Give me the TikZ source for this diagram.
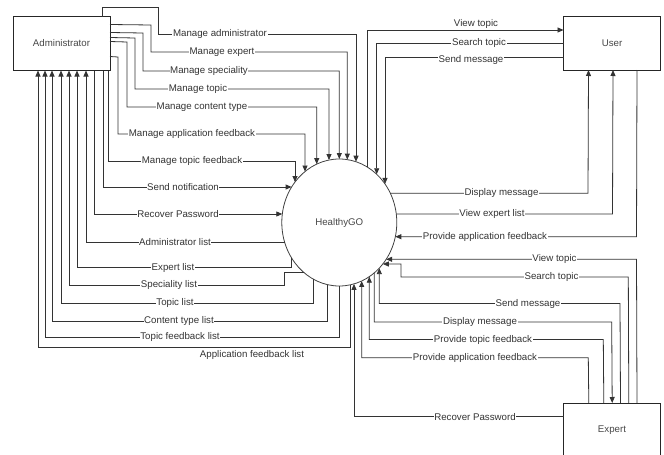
\documentclass[tikz,border=0pt]{standalone}
\usepackage{fontspec}
\setmainfont{Liberation Sans}
\usetikzlibrary{arrows.meta,shapes.geometric,calc}
% border points of the HealthyGO ellipse (centre 339.3,222.5; radii 57.5 x 63.5)
\newcommand\hgtop[2]{\coordinate (#1) at ($(hg.center)+({#2-339.3},{-63.5*sqrt(1-((#2-339.3)/57.5)^2)})$);}
\newcommand\hgbot[2]{\coordinate (#1) at ($(hg.center)+({#2-339.3},{63.5*sqrt(1-((#2-339.3)/57.5)^2)})$);}
\newcommand\hgleft[2]{\coordinate (#1) at ($(hg.center)+({-57.5*sqrt(1-((#2-222.5)/63.5)^2)},{#2-222.5})$);}
\newcommand\hgright[2]{\coordinate (#1) at ($(hg.center)+({57.5*sqrt(1-((#2-222.5)/63.5)^2)},{#2-222.5})$);}
\begin{document}
\begin{tikzpicture}[x=1pt,y=-1pt,
  ent/.style={draw=black!85, line width=0.8pt, minimum width=97pt, minimum height=54pt,
    inner sep=0pt, outer sep=0pt, text=black!72, font=\fontsize{9.7}{11}\selectfont},
  proc/.style={draw=black!75, line width=0.8pt, ellipse, minimum width=115pt, minimum height=127pt,
    inner sep=0pt, outer sep=0pt, text=black!72, font=\fontsize{9.7}{11}\selectfont},
  lbl/.style={fill=white, inner sep=0.6pt, text=black!80, font=\fontsize{9.7}{11}\selectfont},
  flow/.style={draw=black!80, line width=0.8pt, -{Triangle[length=6pt,width=5pt]}},
  wire/.style={draw=black!80, line width=0.8pt},
]
\path[use as bounding box] (0,0) rectangle (664,455);
\clip (0,0) rectangle (664,455);

\node[ent] (ad) at (61.5,43.5) {Administrator};
\node[ent] (us) at (612,43) {User};
\node[ent] (ex) at (612,430) {Expert};
\node[proc] (hg) at (339.3,222.5) {HealthyGO};

% border points
\hgtop{e1}{356} \hgtop{e2}{347.3} \hgtop{e3}{339.3} \hgtop{e4}{329} \hgtop{e5}{316.7}
\hgtop{e6}{305} \hgtop{e7}{295}
\hgleft{e8}{187} \hgleft{e9}{214} \hgleft{l1}{242.3} \hgleft{l3}{272.7}
\hgbot{l2}{291.7} \hgbot{l4}{313} \hgbot{l5}{327} \hgbot{l6}{339.3} \hgbot{l7}{350.7}
\hgtop{u1}{367.3} \hgtop{u2}{376.7} \hgtop{u3}{385}
\hgright{u4}{193.3} \hgright{u5}{214} \hgright{u6}{236.7}
\hgright{x1}{259.3} \hgright{x2}{264}
\hgbot{x3}{379.3} \hgbot{x4}{374.3} \hgbot{x5}{369.3} \hgbot{x6}{361.7} \hgbot{x7}{354}

% Administrator -> HealthyGO
\draw[flow] ([xshift=89pt]ad.north west) -- (102,7) -- (158,7) -- (158,34) -- (356,34) -- (e1);
\draw[flow] ([yshift=-8pt]ad.north east) -- (151,25) -- (151,52) -- (347.3,52) -- (e2);
\draw[flow] ([yshift=-16pt]ad.north east) -- (143,33) -- (143,71) -- (339.3,71) -- (e3);
\draw[flow] ([yshift=-21pt]ad.north east) -- (135,38) -- (135,89) -- (329,89) -- (e4);
\draw[flow] ([yshift=-25pt]ad.north east) -- (127,42) -- (127,107) -- (316.7,107) -- (e5);
\draw[flow] ([yshift=-40pt]ad.north east) -- (118,57) -- (118,134) -- (305,134) -- (e6);
\draw[flow] ([xshift=-2pt]ad.south east) -- (108,161) -- (295,161) -- (e7);
\draw[flow] ([xshift=-7pt]ad.south east) -- (103,187) -- (e8);
\draw[flow] ([xshift=-16pt]ad.south east) -- (94,214) -- (e9);

% HealthyGO -> Administrator
\draw[flow] (l1) -- (86,242.3) -- ([xshift=73pt]ad.south west);
\draw[flow] (l2) -- (291.7,267.7) -- (77,267.7) -- ([xshift=64pt]ad.south west);
\draw[flow] (l3) -- (284,272.7) -- (284,285) -- (69,285) -- ([xshift=56pt]ad.south west);
\draw[flow] (l4) -- (313,303) -- (61,303) -- ([xshift=48pt]ad.south west);
\draw[flow] (l5) -- (327,321) -- (52,321) -- ([xshift=39pt]ad.south west);
\draw[flow] (l6) -- (339.3,337) -- (45,337) -- ([xshift=32pt]ad.south west);
\draw[flow] (l7) -- (350.7,347.5) -- (38,347.5) -- ([xshift=25pt]ad.south west);

% User
\draw[flow] (u1) -- (367.3,30) -- ([yshift=-14pt]us.north west);
\draw[flow] ([yshift=-27pt]us.north west) -- (376.7,43) -- (u2);
\draw[flow] ([yshift=-41pt]us.north west) -- (385,57) -- (u3);
\draw[flow] (u4) -- (588,193.3) -- ([xshift=25pt]us.south west);
\draw[flow] (u5) -- (612.5,214) -- ([xshift=49.5pt]us.south west);
\draw[flow] ([xshift=73.5pt]us.south west) -- (636.5,236.7) -- (u6);

% Expert
\draw[flow] ([xshift=73.5pt]ex.north west) -- (636.5,259.3) -- (x1);
\draw[flow] ([xshift=65.3pt]ex.north west) -- (628.3,277) -- (401,277) -- (401,264) -- (x2);
\draw[flow] ([xshift=57pt]ex.north west) -- (620,303.5) -- (379.3,303.5) -- (x3);
\draw[flow] (x4) -- (374.3,322) -- (611.7,322) -- ([xshift=48.7pt]ex.north west);
\draw[flow] ([xshift=40.3pt]ex.north west) -- (603.3,339.5) -- (369.3,339.5) -- (x5);
\draw[flow] ([xshift=25.3pt]ex.north west) -- (588.3,357.7) -- (361.7,357.7) -- (x6);
\draw[flow] ([yshift=-13.7pt]ex.north west) -- (354,416.7) -- (x7);

% labels
\node[lbl] (t1) at (220,34) {Manage administrator};
\node[lbl] (t2) at (222,52) {Manage expert};
\node[lbl] (t3) at (209,71) {Manage speciality};
\node[lbl] (t4) at (198,89) {Manage topic};
\node[lbl] (t5) at (202,107) {Manage content type};
\node[lbl] (t6) at (192,134) {Manage application feedback};
\node[lbl] (t7) at (192,161) {Manage topic feedback};
\node[lbl] (t8) at (183,187) {Send notification};
\node[lbl] (t9) at (178,214) {Recover Password};
\node[lbl] (m1) at (175,242.3) {Administrator list};
\node[lbl] (m2) at (173,267.7) {Expert list};
\node[lbl] (m3) at (169,285) {Speciality list};
\node[lbl] (m4) at (175,303) {Topic list};
\node[lbl] (m5) at (179,321) {Content type list};
\node[lbl] (m6) at (180,337) {Topic feedback list};
\node[lbl] (m7) at (252,354.5) {Application feedback list};
\node[lbl, anchor=south, inner sep=0.3pt] (v1) at (476,29.5) {View topic};
\node[lbl] (v2) at (479,43) {Search topic};
\node[lbl] (v3) at (471,59.5) {Send message};
\node[lbl] (v4) at (501.5,193.3) {Display message};
\node[lbl] (v5) at (492,214) {View expert list};
\node[lbl] (v6) at (485,236.7) {Provide application feedback};
\node[lbl] (w1) at (554.5,259.3) {View topic};
\node[lbl] (w2) at (551.5,277) {Search topic};
\node[lbl] (w3) at (528,303.5) {Send message};
\node[lbl] (w4) at (480,322) {Display message};
\node[lbl] (w5) at (483,339.5) {Provide topic feedback};
\node[lbl] (w6) at (475,357.7) {Provide application feedback};
\node[lbl] (w7) at (475,416.7) {Recover Password};
\end{tikzpicture}
\end{document}
